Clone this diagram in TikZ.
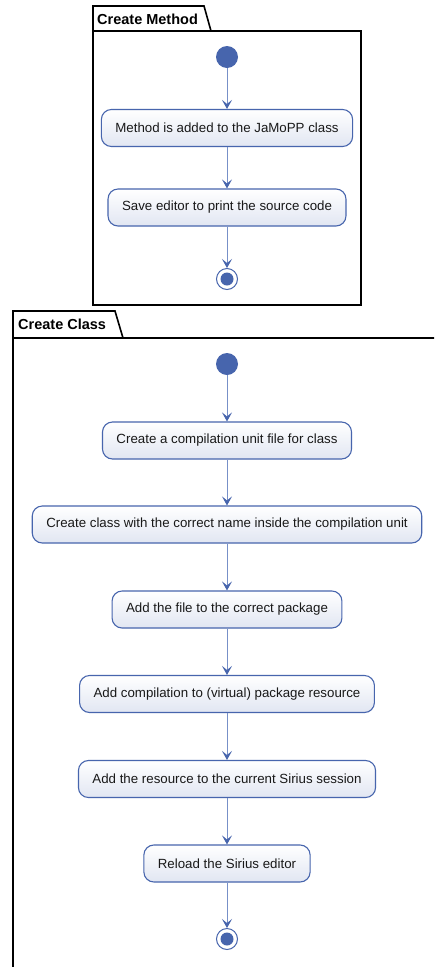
\documentclass[tikz,border=0pt]{standalone}
\usepackage{fontspec}
\setmainfont{Liberation Sans}
\usetikzlibrary{arrows.meta}
\definecolor{umlblue}{HTML}{4765AD}
\definecolor{umlline}{HTML}{7790C8}
\definecolor{umlfill}{HTML}{E1E6F2}
\tikzset{
  act/.style={draw=umlblue, line width=1.1pt, rounded corners=10pt,
    top color=white, bottom color=umlfill, minimum height=37pt,
    inner xsep=14pt, font=\fontsize{13.3}{15}\selectfont, text=black!90},
  startnode/.style={circle, fill=umlblue, minimum size=22pt, inner sep=0pt},
  endnode/.style={circle, draw=umlblue, fill=white, line width=1pt, minimum size=21pt, inner sep=0pt},
  flow/.style={draw=umlline, line width=1pt, -{Stealth[length=9pt,width=10pt,inset=4pt,color=umlblue]}},
  frameline/.style={draw=black, line width=1.6pt},
  frametitle/.style={font=\bfseries\fontsize{14.5}{16}\selectfont, anchor=west, inner sep=0pt}
}
\begin{document}
\begin{tikzpicture}[x=1pt,y=-1pt]
\useasboundingbox (0,0) rectangle (434,967);
\fill[white] (0,0) rectangle (434,967);
\clip (0,0) rectangle (434,967);
% Frame 1
\draw[frameline] (93,31) -- (93,305) -- (361,305) -- (361,31) -- cycle;
\draw[frameline] (93,31) -- (93,6) -- (204,6) -- (211,31);
\node[frametitle] (t1) at (97,19) {Create Method};
% Frame 2
\draw[frameline] (13,338) -- (13,980) -- (445,980) -- (445,338) -- cycle;
\draw[frameline] (13,338) -- (13,311) -- (115,311) -- (123,338);
\node[frametitle] (t2) at (18,324.5) {Create Class};
% Method flow
\node[startnode] (s1) at (227,57) {};
\node[act] (m1) at (227,128) {Method is added to the JaMoPP class};
\node[act] (m2) at (227,207.5) {Save editor to print the source code};
\node[endnode] (e1) at (227,279) {};
\fill[umlblue] (e1.center) circle (6.5pt);
\draw[flow] (s1) -- (m1);
\draw[flow] (m1) -- (m2);
\draw[flow] (m2) -- (e1);
% Class flow
\node[startnode] (s2) at (227,364) {};
\node[act] (c1) at (227,440.5) {Create a compilation unit file for class};
\node[act] (c2) at (227,524.5) {Create class with the correct name inside the compilation unit};
\node[act] (c3) at (227,609.5) {Add the file to the correct package};
\node[act] (c4) at (227,694) {Add compilation to (virtual) package resource};
\node[act] (c5) at (227,779) {Add the resource to the current Sirius session};
\node[act] (c6) at (227,863.5) {Reload the Sirius editor};
\node[endnode] (e2) at (227,939) {};
\fill[umlblue] (e2.center) circle (6.5pt);
\draw[flow] (s2) -- (c1);
\draw[flow] (c1) -- (c2);
\draw[flow] (c2) -- (c3);
\draw[flow] (c3) -- (c4);
\draw[flow] (c4) -- (c5);
\draw[flow] (c5) -- (c6);
\draw[flow] (c6) -- (e2);
\end{tikzpicture}
\end{document}
